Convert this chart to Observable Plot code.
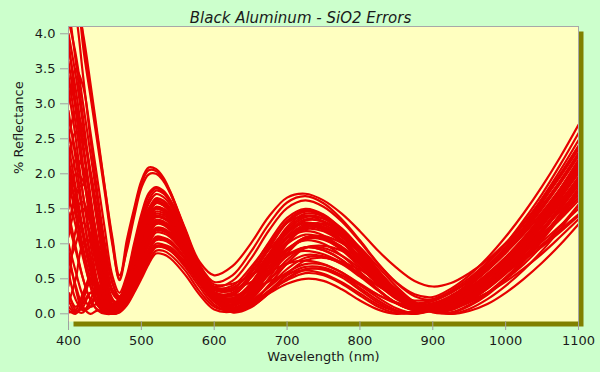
<!DOCTYPE html>
<html>
<head>
<meta charset="utf-8">
<script src="https://cdn.jsdelivr.net/npm/d3@7"></script>
<script src="https://cdn.jsdelivr.net/npm/@observablehq/plot@0.6"></script>
<style>
  html, body { margin: 0; padding: 0; background: #ccffcc; }
  #chart { width: 600px; height: 372px; }
</style>
</head>
<body>
<div id="chart"></div>
<script>
const title = "Black Aluminum - SiO2 Errors";
const xLabel = "Wavelength (nm)";
const yLabel = "% Reflectance";
const xTicks = [400, 500, 600, 700, 800, 900, 1000, 1100];
const yTicks = [0, 0.5, 1.0, 1.5, 2.0, 2.5, 3.0, 3.5, 4.0];

const wavelengths = [400,410,420,430,440,450,460,470,480,490,500,510,520,530,540,560,580,600,625,650,675,700,725,750,775,800,825,850,875,900,925,950,975,1000,1025,1050,1075,1100];

const run01 = [6.5,5.0,3.82,3.12,2.42,1.72,1.0,0.5,1.05,1.5,1.9,2.09,2.07,1.95,1.74,1.22,0.74,0.55,0.68,1.0,1.39,1.66,1.715,1.62,1.43,1.18,0.90,0.66,0.47,0.39,0.44,0.58,0.77,1.01,1.29,1.61,1.96,2.35];
const run02 = [5.8,4.9,3.95,3.2,2.5,1.78,1.05,0.48,0.95,1.45,1.86,2.05,2.04,1.92,1.73,1.20,0.70,0.455,0.55,0.88,1.28,1.59,1.68,1.58,1.35,1.05,0.72,0.45,0.28,0.24,0.36,0.55,0.80,1.10,1.44,1.82,2.24,2.70];
const run03 = [4.6,4.5,4.0,3.3,2.55,1.8,1.1,0.55,0.9,1.38,1.8,1.99,2.00,1.90,1.71,1.19,0.67,0.39,0.47,0.78,1.19,1.51,1.62,1.53,1.32,1.03,0.71,0.44,0.25,0.20,0.30,0.48,0.72,1.00,1.34,1.71,2.13,2.58];
const run04 = [3.0,3.5,3.25,2.6,1.9,1.2,0.55,0.3,0.55,1.0,1.42,1.72,1.81,1.76,1.62,1.17,0.67,0.34,0.35,0.62,1.02,1.37,1.50,1.42,1.21,0.91,0.59,0.31,0.15,0.13,0.25,0.44,0.67,0.96,1.28,1.65,2.05,2.48];
const run05 = [4.2,3.7,3.0,2.3,1.6,0.95,0.45,0.25,0.5,0.9,1.32,1.62,1.76,1.72,1.59,1.15,0.64,0.28,0.26,0.52,0.93,1.30,1.46,1.39,1.17,0.85,0.52,0.24,0.09,0.11,0.23,0.41,0.63,0.90,1.20,1.53,1.90,2.30];
const run06 = [2.5,2.9,2.6,2.0,1.35,0.75,0.3,0.2,0.45,0.85,1.25,1.57,1.71,1.67,1.55,1.13,0.66,0.38,0.40,0.66,1.00,1.30,1.40,1.32,1.11,0.80,0.50,0.26,0.15,0.20,0.33,0.51,0.74,1.00,1.30,1.64,2.00,2.40];
const run07 = [3.8,3.2,2.45,1.7,1.0,0.45,0.18,0.2,0.42,0.8,1.18,1.48,1.65,1.62,1.50,1.10,0.61,0.24,0.17,0.42,0.84,1.24,1.43,1.39,1.22,0.94,0.62,0.33,0.12,0.05,0.13,0.28,0.50,0.76,1.06,1.41,1.79,2.20];
const run08 = [1.6,2.2,2.1,1.6,1.0,0.5,0.2,0.15,0.38,0.75,1.12,1.42,1.58,1.55,1.44,1.06,0.62,0.31,0.28,0.51,0.86,1.17,1.30,1.24,1.05,0.78,0.49,0.26,0.12,0.12,0.23,0.40,0.62,0.87,1.17,1.50,1.86,2.25];
const run09 = [2.8,2.3,1.7,1.1,0.6,0.25,0.1,0.18,0.4,0.72,1.06,1.35,1.52,1.50,1.40,1.04,0.58,0.22,0.11,0.33,0.72,1.11,1.33,1.32,1.17,0.91,0.62,0.33,0.13,0.03,0.08,0.22,0.42,0.67,0.96,1.29,1.65,2.05];
const run10 = [0.4,1.2,1.5,1.3,0.85,0.4,0.12,0.12,0.35,0.68,1.0,1.28,1.46,1.44,1.35,1.02,0.63,0.35,0.33,0.52,0.82,1.08,1.18,1.12,0.94,0.70,0.45,0.24,0.13,0.15,0.26,0.42,0.63,0.87,1.14,1.45,1.79,2.15];
const run11 = [3.6,2.9,2.1,1.35,0.7,0.25,0.05,0.12,0.32,0.62,0.95,1.22,1.40,1.38,1.30,0.98,0.55,0.19,0.07,0.25,0.62,1.00,1.23,1.23,1.10,0.88,0.61,0.34,0.14,0.03,0.05,0.18,0.36,0.59,0.86,1.17,1.52,1.90];
const run12 = [0.05,0.0,0.2,0.45,0.35,0.12,0.08,0.15,0.35,0.62,0.92,1.17,1.34,1.32,1.25,0.94,0.56,0.27,0.22,0.39,0.67,0.93,1.05,1.00,0.83,0.60,0.35,0.15,0.06,0.10,0.21,0.37,0.57,0.79,1.06,1.34,1.66,2.00];
const run13 = [2.0,1.6,1.1,0.6,0.25,0.05,0.03,0.1,0.3,0.57,0.86,1.1,1.28,1.27,1.19,0.90,0.51,0.19,0.04,0.19,0.51,0.86,1.09,1.11,1.01,0.82,0.59,0.35,0.15,0.03,0.01,0.11,0.27,0.49,0.75,1.05,1.38,1.75];
const run14 = [1.0,0.6,0.25,0.1,0.15,0.12,0.05,0.1,0.28,0.53,0.8,1.04,1.22,1.21,1.15,0.88,0.53,0.24,0.16,0.30,0.56,0.82,0.95,0.91,0.77,0.56,0.34,0.15,0.05,0.07,0.17,0.32,0.52,0.74,1.00,1.29,1.61,1.95];
const run15 = [3.2,2.5,1.7,1.0,0.45,0.1,0.0,0.06,0.24,0.48,0.75,0.98,1.16,1.15,1.09,0.84,0.50,0.19,0.03,0.14,0.41,0.72,0.94,0.97,0.90,0.75,0.55,0.35,0.17,0.04,0.00,0.07,0.21,0.40,0.63,0.90,1.21,1.55];
const run16 = [0.1,0.02,0.15,0.3,0.2,0.05,0.02,0.08,0.24,0.46,0.71,0.93,1.10,1.09,1.04,0.80,0.48,0.22,0.12,0.24,0.48,0.71,0.84,0.82,0.71,0.53,0.33,0.15,0.05,0.04,0.13,0.28,0.46,0.68,0.93,1.21,1.51,1.85];
const run17 = [1.3,0.9,0.5,0.2,0.05,0.0,0.0,0.06,0.2,0.42,0.66,0.88,1.05,1.05,1.00,0.78,0.48,0.20,0.02,0.09,0.30,0.57,0.76,0.80,0.74,0.63,0.48,0.32,0.16,0.05,0.00,0.04,0.14,0.30,0.50,0.73,0.99,1.28];
const run18 = [0.6,0.2,0.05,0.15,0.3,0.15,0.04,0.05,0.18,0.38,0.62,0.84,1.00,0.99,0.95,0.74,0.44,0.19,0.08,0.18,0.38,0.59,0.71,0.70,0.59,0.41,0.23,0.08,0.01,0.05,0.14,0.28,0.45,0.65,0.88,1.13,1.40,1.70];
const run19 = [2.4,1.8,1.2,0.7,0.3,0.06,0.0,0.04,0.16,0.35,0.58,0.8,0.95,0.95,0.90,0.70,0.43,0.17,0.03,0.10,0.29,0.51,0.64,0.63,0.52,0.34,0.16,0.03,0.00,0.06,0.16,0.30,0.46,0.65,0.86,1.10,1.35,1.62];
const run20 = [0.02,0.05,0.3,0.5,0.3,0.08,0.0,0.03,0.14,0.32,0.54,0.75,0.90,0.90,0.84,0.62,0.32,0.10,0.05,0.15,0.32,0.48,0.58,0.55,0.43,0.26,0.10,0.01,0.02,0.09,0.19,0.31,0.46,0.63,0.83,1.03,1.26,1.50];
const run21 = [0.8,0.4,0.1,0.0,0.05,0.02,0.0,0.02,0.12,0.3,0.5,0.71,0.86,0.85,0.79,0.56,0.27,0.06,0.03,0.13,0.29,0.43,0.50,0.47,0.35,0.19,0.06,0.00,0.03,0.10,0.20,0.32,0.46,0.62,0.80,0.99,1.20,1.42];
const run22 = [4.0,3.4,2.7,1.95,1.25,0.6,0.2,0.15,0.4,0.78,1.18,1.5,1.62,1.58,1.48,1.10,0.62,0.22,0.05,0.22,0.59,1.00,1.26,1.29,1.17,0.95,0.67,0.39,0.16,0.02,0.02,0.13,0.30,0.52,0.78,1.09,1.43,1.80];
const run23 = [1.9,1.4,0.85,0.4,0.12,0.05,0.1,0.22,0.42,0.7,0.98,1.23,1.38,1.36,1.28,0.98,0.64,0.42,0.43,0.55,0.72,0.86,0.90,0.85,0.73,0.56,0.40,0.26,0.19,0.21,0.31,0.46,0.66,0.89,1.15,1.44,1.76,2.10];
const run24 = [0.3,0.05,0.02,0.2,0.4,0.25,0.08,0.1,0.28,0.52,0.8,1.02,1.20,1.19,1.12,0.87,0.55,0.31,0.26,0.34,0.46,0.57,0.62,0.57,0.45,0.29,0.13,0.04,0.03,0.09,0.17,0.29,0.43,0.59,0.77,0.96,1.17,1.40];
const run25 = [2.0,2.6,2.5,2.05,1.45,0.85,0.35,0.22,0.5,0.95,1.38,1.68,1.79,1.74,1.61,1.16,0.66,0.31,0.30,0.57,0.97,1.33,1.48,1.41,1.19,0.88,0.55,0.27,0.12,0.12,0.24,0.43,0.65,0.93,1.24,1.59,1.98,2.39];
const run26 = [1.2,1.7,1.85,1.55,1.05,0.55,0.2,0.15,0.41,0.76,1.12,1.42,1.59,1.56,1.45,1.07,0.60,0.23,0.14,0.38,0.78,1.18,1.38,1.36,1.20,0.93,0.62,0.33,0.13,0.04,0.11,0.25,0.46,0.72,1.01,1.35,1.72,2.12];
const run27 = [2.2,1.7,1.15,0.65,0.28,0.08,0.05,0.12,0.33,0.65,0.98,1.25,1.43,1.41,1.33,1.00,0.59,0.27,0.20,0.39,0.72,1.04,1.21,1.18,1.02,0.79,0.53,0.29,0.13,0.08,0.15,0.30,0.50,0.73,1.00,1.31,1.66,2.03];
const run28 = [0.9,0.35,0.05,0.1,0.3,0.2,0.06,0.1,0.33,0.60,0.89,1.14,1.31,1.30,1.22,0.92,0.54,0.23,0.13,0.29,0.59,0.90,1.07,1.06,0.92,0.71,0.47,0.25,0.11,0.07,0.11,0.24,0.42,0.64,0.91,1.20,1.52,1.88];
const run29 = [2.9,2.2,1.45,0.8,0.35,0.08,0.01,0.08,0.26,0.50,0.78,1.01,1.19,1.18,1.12,0.86,0.51,0.21,0.09,0.22,0.48,0.77,0.95,0.94,0.83,0.65,0.44,0.25,0.11,0.05,0.08,0.19,0.36,0.57,0.81,1.09,1.41,1.75];
const run30 = [1.7,1.25,0.8,0.4,0.12,0.02,0.0,0.05,0.22,0.44,0.69,0.91,1.08,1.07,1.02,0.79,0.48,0.21,0.07,0.17,0.39,0.64,0.80,0.81,0.72,0.58,0.40,0.23,0.10,0.04,0.06,0.16,0.30,0.49,0.71,0.97,1.25,1.56];
const run31 = [0.3,0.1,0.25,0.55,0.45,0.15,0.02,0.04,0.17,0.37,0.60,0.82,0.97,0.97,0.92,0.72,0.43,0.18,0.05,0.14,0.33,0.55,0.67,0.66,0.55,0.37,0.19,0.05,0.00,0.05,0.15,0.29,0.45,0.65,0.87,1.11,1.37,1.66];
const run32 = [3.4,2.7,2.0,1.35,0.8,0.38,0.15,0.14,0.39,0.77,1.15,1.46,1.60,1.57,1.46,1.08,0.62,0.27,0.17,0.37,0.73,1.09,1.28,1.27,1.11,0.87,0.58,0.33,0.14,0.07,0.13,0.27,0.46,0.70,0.98,1.30,1.65,2.03];
const run33 = [1.45,0.95,0.5,0.2,0.06,0.05,0.12,0.18,0.35,0.61,0.89,1.13,1.29,1.28,1.20,0.93,0.60,0.37,0.35,0.45,0.59,0.72,0.76,0.71,0.59,0.43,0.27,0.15,0.11,0.15,0.24,0.38,0.55,0.74,0.96,1.20,1.47,1.75];
const run34 = [0.15,0.5,1.0,1.05,0.7,0.3,0.08,0.13,0.40,0.77,1.13,1.43,1.59,1.56,1.45,1.08,0.65,0.37,0.37,0.59,0.91,1.19,1.29,1.22,1.03,0.75,0.48,0.25,0.14,0.18,0.30,0.47,0.69,0.94,1.22,1.55,1.90,2.28];
const run35 = [2.1,1.5,0.95,0.5,0.18,0.03,0.0,0.03,0.16,0.36,0.58,0.80,0.96,0.95,0.90,0.67,0.38,0.13,0.03,0.11,0.30,0.50,0.63,0.64,0.55,0.41,0.27,0.16,0.10,0.08,0.10,0.18,0.30,0.46,0.65,0.86,1.10,1.35];
const run36 = [4.8,4.3,3.4,2.5,1.7,1.0,0.45,0.22,0.45,0.81,1.19,1.49,1.64,1.61,1.50,1.10,0.61,0.25,0.19,0.43,0.83,1.21,1.40,1.36,1.17,0.88,0.57,0.29,0.11,0.07,0.16,0.32,0.53,0.79,1.08,1.41,1.78,2.18];
const run37 = [3.3,3.0,2.35,1.65,1.0,0.45,0.14,0.12,0.41,0.76,1.14,1.42,1.58,1.55,1.45,1.07,0.60,0.24,0.17,0.39,0.78,1.15,1.35,1.31,1.14,0.87,0.57,0.29,0.12,0.07,0.14,0.30,0.50,0.75,1.03,1.35,1.71,2.10];
const run38 = [0.7,1.0,1.3,1.15,0.75,0.35,0.1,0.1,0.39,0.71,1.05,1.33,1.50,1.47,1.38,1.02,0.59,0.26,0.20,0.41,0.76,1.09,1.24,1.20,1.03,0.77,0.49,0.24,0.09,0.08,0.17,0.33,0.54,0.78,1.06,1.38,1.73,2.10];
const run39 = [2.6,2.0,1.4,0.85,0.4,0.12,0.04,0.1,0.33,0.64,0.96,1.23,1.40,1.38,1.30,0.97,0.58,0.28,0.22,0.41,0.71,1.00,1.13,1.08,0.91,0.67,0.42,0.21,0.09,0.10,0.20,0.36,0.57,0.81,1.09,1.40,1.74,2.10];
const run40 = [0.2,0.02,0.1,0.3,0.3,0.12,0.04,0.08,0.32,0.59,0.89,1.14,1.31,1.30,1.22,0.92,0.53,0.22,0.12,0.29,0.60,0.91,1.09,1.07,0.94,0.72,0.48,0.24,0.09,0.04,0.11,0.25,0.44,0.68,0.95,1.25,1.58,1.95];
const run41 = [3.9,3.0,2.1,1.3,0.65,0.2,0.05,0.08,0.27,0.53,0.81,1.06,1.23,1.22,1.15,0.88,0.54,0.27,0.21,0.35,0.60,0.84,0.95,0.91,0.77,0.56,0.34,0.16,0.07,0.10,0.20,0.35,0.54,0.76,1.01,1.29,1.60,1.93];
const run42 = [1.1,1.5,1.6,1.3,0.85,0.4,0.1,0.1,0.38,0.71,1.06,1.34,1.50,1.47,1.37,1.02,0.59,0.29,0.22,0.43,0.76,1.08,1.25,1.22,1.06,0.81,0.55,0.31,0.15,0.12,0.17,0.31,0.51,0.75,1.03,1.35,1.69,2.08];
const run43 = [4.4,3.6,2.8,2.0,1.3,0.65,0.22,0.12,0.37,0.72,1.08,1.38,1.53,1.50,1.41,1.05,0.61,0.25,0.12,0.31,0.66,1.02,1.24,1.24,1.10,0.87,0.60,0.34,0.15,0.05,0.08,0.22,0.40,0.63,0.89,1.20,1.55,1.92];
const run44 = [1.5,2.0,1.9,1.45,0.9,0.42,0.12,0.1,0.32,0.60,0.91,1.17,1.34,1.32,1.24,0.93,0.54,0.22,0.11,0.28,0.59,0.91,1.09,1.09,0.96,0.76,0.51,0.28,0.12,0.04,0.09,0.21,0.38,0.61,0.86,1.16,1.49,1.84];

const runs = [run01,run02,run03,run04,run05,run06,run07,run08,run09,run10,run11,run12,
              run13,run14,run15,run16,run17,run18,run19,run20,run21,run22,run23,run24,
              run25,run26,run27,run28,run29,run30,run31,run32,run33,run34,run35,run36,
              run37,run38,run39,run40,run41,run42,run43,run44];

const rows = runs.flatMap((vals, i) => vals.map((v, j) => ({run: i, nm: wavelengths[j], r: v})));

const yTop = 4.104, yBottom = -0.11;

const chart = Plot.plot({
  width: 600,
  height: 372,
  marginLeft: 68,
  marginRight: 22,
  marginTop: 26,
  marginBottom: 51,
  style: {background: "#ccffcc", fontFamily: "'DejaVu Sans', Verdana, sans-serif", fontSize: "13px", color: "#1a1a1a"},
  x: {domain: [400, 1100]},
  y: {domain: [yBottom, yTop]},
  marks: [
    Plot.frame({fill: "#808000", dx: 5, dy: 5}),
    Plot.frame({fill: "#ffffc0"}),
    Plot.line(rows, {x: "nm", y: "r", z: "run", stroke: "#e60000", strokeWidth: 2.2, curve: "catmull-rom", clip: true}),
    Plot.ruleY([yTop], {stroke: "#a8a8a8"}),
    Plot.ruleX([1100], {stroke: "#a8a8a8"}),
    Plot.ruleX([400], {stroke: "#a8a8a8"}),
    Plot.axisX({ticks: xTicks, tickSize: 9, tickPadding: 5, stroke: "#a0a0a0", fill: "#1a1a1a", label: null, fontSize: 13, tickFormat: d => String(d)}),
    Plot.axisY({ticks: yTicks, tickSize: 8, tickPadding: 5, stroke: "#a0a0a0", fill: "#1a1a1a", label: null, fontSize: 13, tickFormat: d => d.toFixed(1)}),
    Plot.text([yLabel], {frameAnchor: "left", dx: -50, rotate: -90, fontSize: 13, fill: "#1a1a1a"}),
    Plot.text([xLabel], {frameAnchor: "bottom", dy: 39, fontSize: 13, fill: "#1a1a1a"}),
    Plot.text([title], {frameAnchor: "top", dx: -23, dy: -14, fontSize: 15, fontStyle: "italic", fill: "#1a1a1a"})
  ]
});

document.getElementById("chart").appendChild(chart);
</script>
</body>
</html>
